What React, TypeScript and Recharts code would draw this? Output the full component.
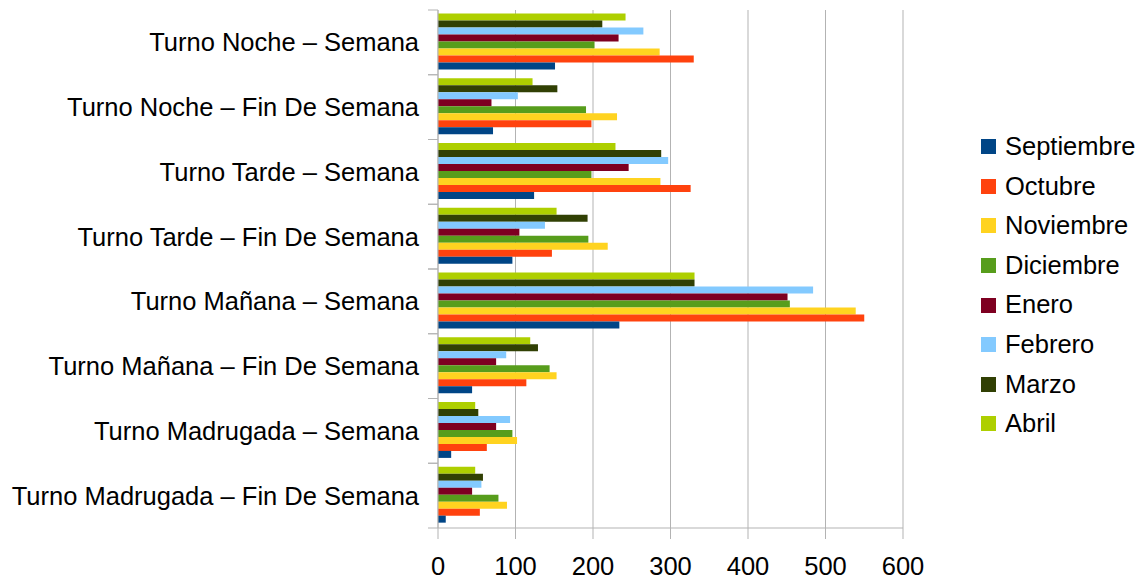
import React from 'react'
import { BarChart, Bar, XAxis, YAxis, CartesianGrid } from 'recharts'

const turnos = [
  'Turno Noche – Semana',
  'Turno Noche – Fin De Semana',
  'Turno Tarde – Semana',
  'Turno Tarde – Fin De Semana',
  'Turno Mañana – Semana',
  'Turno Mañana – Fin De Semana',
  'Turno Madrugada – Semana',
  'Turno Madrugada – Fin De Semana',
]

const septiembre = [151, 71, 124, 96, 234, 44, 17, 10]
const octubre = [330, 198, 326, 147, 550, 114, 63, 54]
const noviembre = [286, 231, 287, 219, 539, 153, 102, 89]
const diciembre = [202, 191, 198, 194, 454, 144, 96, 78]
const enero = [233, 69, 246, 105, 451, 75, 75, 44]
const febrero = [265, 103, 297, 138, 484, 88, 93, 56]
const marzo = [212, 154, 288, 193, 331, 129, 52, 58]
const abril = [242, 122, 229, 153, 331, 119, 48, 48]

const xTicks = [0, 100, 200, 300, 400, 500, 600]

const series = [
  { key: 'septiembre', name: 'Septiembre', color: '#004586', values: septiembre },
  { key: 'octubre', name: 'Octubre', color: '#ff420e', values: octubre },
  { key: 'noviembre', name: 'Noviembre', color: '#ffd320', values: noviembre },
  { key: 'diciembre', name: 'Diciembre', color: '#579d1c', values: diciembre },
  { key: 'enero', name: 'Enero', color: '#7e0021', values: enero },
  { key: 'febrero', name: 'Febrero', color: '#83caff', values: febrero },
  { key: 'marzo', name: 'Marzo', color: '#314004', values: marzo },
  { key: 'abril', name: 'Abril', color: '#aecf00', values: abril },
]

const chartData = turnos.map((turno, i) => {
  const row: Record<string, string | number> = { turno }
  series.forEach((s) => {
    row[s.key] = s.values[i]
  })
  return row
})

const FONT = '"Liberation Sans", Arial, sans-serif'
const FONT_SIZE = 25.5
const GRID = '#b3b3b3'

const CHART_W = 1140
const CHART_H = 573
const MARGIN = { top: 2, right: 245, bottom: 0, left: 0 }
const Y_WIDTH = 430
const X_HEIGHT = 53
const PLOT_H = CHART_H - MARGIN.top - MARGIN.bottom - X_HEIGHT
const HALF_BAND = PLOT_H / turnos.length / 2

function CategoryTick(props: any) {
  const { x, y, payload } = props
  const axisX = x + 19
  return (
    <g>
      <line x1={axisX - 10} x2={axisX} y1={y - HALF_BAND} y2={y - HALF_BAND} stroke={GRID} />
      <line x1={axisX - 10} x2={axisX} y1={y + HALF_BAND} y2={y + HALF_BAND} stroke={GRID} />
      <text x={x} y={y} dy="0.35em" textAnchor="end" fill="#000" fontSize={FONT_SIZE} fontFamily={FONT}>
        {payload.value}
      </text>
    </g>
  )
}

export default function App() {
  // bars inside a band are drawn top to bottom, so Abril goes first
  const drawOrder = [...series].reverse()

  return (
    <div style={{ position: 'relative', width: CHART_W, height: CHART_H, fontFamily: FONT }}>
      <BarChart
        width={CHART_W}
        height={CHART_H}
        data={chartData}
        layout="vertical"
        margin={MARGIN}
        barCategoryGap={3.4}
        barGap={0}
      >
        <CartesianGrid horizontal={false} stroke={GRID} />
        <XAxis
          type="number"
          domain={[0, 600]}
          ticks={xTicks}
          height={X_HEIGHT}
          tickSize={11}
          tickMargin={18}
          axisLine={{ stroke: GRID }}
          tickLine={{ stroke: GRID }}
          tick={{ fill: '#000', fontSize: FONT_SIZE, fontFamily: FONT }}
        />
        <XAxis
          xAxisId="top"
          orientation="top"
          type="number"
          domain={[0, 600]}
          height={0}
          tick={false}
          tickLine={false}
          axisLine={{ stroke: GRID }}
        />
        <YAxis
          type="category"
          dataKey="turno"
          width={Y_WIDTH}
          tickSize={10}
          tickMargin={9}
          tickLine={false}
          axisLine={{ stroke: GRID }}
          tick={<CategoryTick />}
          interval={0}
        />
        {drawOrder.map((s) => (
          <Bar key={s.key} dataKey={s.key} name={s.name} fill={s.color} isAnimationActive={false} />
        ))}
      </BarChart>
      <div style={{ position: 'absolute', left: 973, top: 119 }}>
        {series.map((s) => (
          <div key={s.key} style={{ display: 'flex', alignItems: 'center', height: 39.6 }}>
            <span style={{ width: 15, height: 15, background: s.color, marginRight: 9 }} />
            <span style={{ fontSize: FONT_SIZE, color: '#000', lineHeight: 1 }}>{s.name}</span>
          </div>
        ))}
      </div>
    </div>
  )
}
